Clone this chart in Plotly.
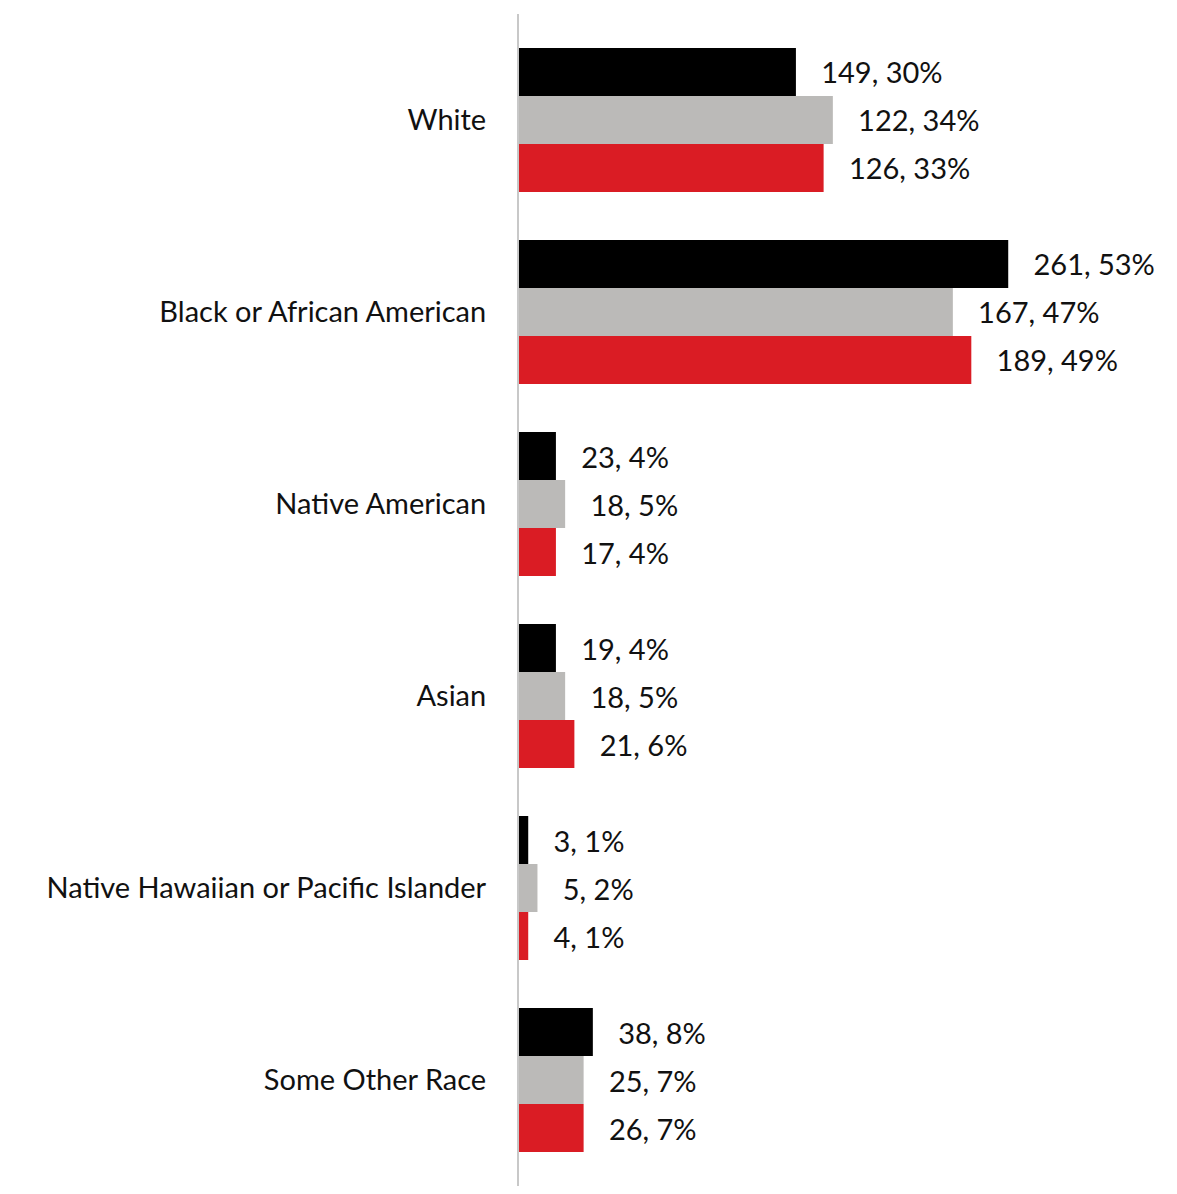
import plotly.graph_objects as go

categories = ["White", "Black or African American", "Native American", "Asian",
              "Native Hawaiian or Pacific Islander", "Some Other Race"]

series_names = ["Series 1", "Series 2", "Series 3"]
counts = [
    [149, 261, 23, 19, 3, 38],
    [122, 167, 18, 18, 5, 25],
    [126, 189, 17, 21, 4, 26],
]
pcts = [
    [30, 53, 4, 4, 1, 8],
    [34, 47, 5, 5, 2, 7],
    [33, 49, 4, 6, 1, 7],
]
colors = ["#000000", "#BBBAB8", "#DA1C24"]

FONT = "Lato"
FS = 29
pad = "\u00a0" * 3

fig = go.Figure()
for name, c, p, col in zip(series_names, counts, pcts, colors):
    fig.add_trace(go.Bar(
        y=categories, x=p, orientation="h", name=name,
        marker=dict(color=col, line=dict(width=0)),
        text=[f"{pad}{ci}, {pi}%" for ci, pi in zip(c, p)],
        textposition="outside", cliponaxis=False, constraintext="none",
        textfont=dict(family=FONT, size=FS, color="#111111"),
        hoverinfo="skip",
    ))

n = len(categories)
fig.update_layout(
    width=1177, height=1194,
    margin=dict(l=511, r=18, t=6, b=16),
    barmode="group", bargap=0.25, bargroupgap=0,
    showlegend=False,
    plot_bgcolor="white", paper_bgcolor="white",
    font=dict(family=FONT, size=FS, color="#111111"),
)
fig.update_xaxes(range=[0, 70.2], visible=False, showgrid=False, zeroline=False)
fig.update_yaxes(
    type="category", categoryorder="array", categoryarray=categories,
    range=[n - 0.5 + 0.052, -0.5 - 0.052],
    showline=True, linecolor="#C8C8C8", linewidth=2,
    showgrid=False, zeroline=False, ticks="",
    ticklabelstandoff=25,
    tickfont=dict(family=FONT, size=FS, color="#111111"),
)

fig.write_html("out.html")
